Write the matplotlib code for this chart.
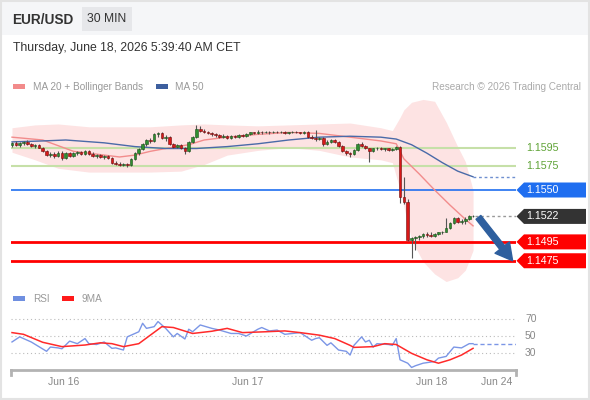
import matplotlib
matplotlib.use("Agg")
import matplotlib.pyplot as plt
from matplotlib.patches import Rectangle, Polygon, FancyArrowPatch
import numpy as np

plt.rcParams['font.family'] = ['Liberation Sans', 'DejaVu Sans']

# ---------------- data ----------------
symbol = "EUR/USD"
timeframe = "30 MIN"
timestamp = "Thursday, June 18, 2026 5:39:40 AM CET"
credit = "Research \u00a9 2026 Trading Central"
legend_price = ["MA 20 + Bollinger Bands", "MA 50"]
legend_rsi = ["RSI", "9MA"]

first_open = 1.1598
closes = [1.1600, 1.1598, 1.1600, 1.1601, 1.1599, 1.1597, 1.1598, 1.1595, 1.1591, 1.1587,
          1.1588, 1.1586, 1.1589, 1.1584, 1.1589, 1.1586, 1.1589, 1.1590, 1.1588, 1.1591,
          1.1588, 1.1586, 1.1587, 1.1585, 1.1586, 1.1584, 1.1579, 1.1578, 1.1577, 1.1578,
          1.1576, 1.1583, 1.1589, 1.1593, 1.1599, 1.1603, 1.1602, 1.1609, 1.1610, 1.1605,
          1.1606, 1.1599, 1.1596, 1.1598, 1.1594, 1.1591, 1.1601, 1.1606, 1.1615, 1.1613,
          1.1611, 1.1610, 1.1609, 1.1608, 1.1606, 1.1607, 1.1605, 1.1607, 1.1606, 1.1608,
          1.1607, 1.1609, 1.1611, 1.1610, 1.1612, 1.1611, 1.1612, 1.1611, 1.1612, 1.1611,
          1.1612, 1.1610, 1.1611, 1.1612, 1.1611, 1.1610, 1.1612, 1.1606, 1.1605, 1.1604,
          1.1605, 1.1599, 1.1601, 1.1603, 1.1601, 1.1597, 1.1591, 1.1589, 1.1588, 1.1592,
          1.1599, 1.1597, 1.1594, 1.1591, 1.1594, 1.1595, 1.1593, 1.1594, 1.1592, 1.1593,
          1.1596, 1.1543, 1.1537, 1.1497, 1.1499, 1.1500, 1.1501, 1.1503, 1.1502, 1.1501,
          1.1503, 1.1505, 1.1506, 1.1510, 1.1515, 1.1520, 1.1516, 1.1517, 1.1519, 1.1522,
          1.1522]
highs = [1.1601, 1.1602, 1.1601, 1.1602, 1.1603, 1.1600, 1.1599, 1.1599, 1.1596, 1.1592,
         1.1590, 1.1590, 1.1591, 1.1591, 1.1590, 1.1590, 1.1590, 1.1591, 1.1591, 1.1592,
         1.1592, 1.1590, 1.1588, 1.1588, 1.1587, 1.1587, 1.1585, 1.1581, 1.1580, 1.1579,
         1.1579, 1.1584, 1.1590, 1.1594, 1.1600, 1.1604, 1.1605, 1.1610, 1.1612, 1.1612,
         1.1608, 1.1607, 1.1600, 1.1599, 1.1599, 1.1596, 1.1602, 1.1607, 1.1619, 1.1618,
         1.1615, 1.1613, 1.1611, 1.1610, 1.1609, 1.1609, 1.1608, 1.1608, 1.1608, 1.1609,
         1.1609, 1.1610, 1.1612, 1.1612, 1.1614, 1.1613, 1.1613, 1.1613, 1.1613, 1.1613,
         1.1613, 1.1613, 1.1612, 1.1613, 1.1613, 1.1612, 1.1613, 1.1613, 1.1608, 1.1614,
         1.1606, 1.1606, 1.1603, 1.1604, 1.1604, 1.1602, 1.1598, 1.1592, 1.1590, 1.1593,
         1.1600, 1.1601, 1.1598, 1.1595, 1.1595, 1.1596, 1.1596, 1.1595, 1.1595, 1.1594,
         1.1597, 1.1597, 1.1564, 1.1540, 1.1500, 1.1501, 1.1502, 1.1504, 1.1505, 1.1505,
         1.1504, 1.1506, 1.1507, 1.1520, 1.1516, 1.1521, 1.1521, 1.1519, 1.1521, 1.1523,
         1.1523]
lows = [1.1596, 1.1597, 1.1596, 1.1598, 1.1598, 1.1596, 1.1595, 1.1594, 1.1590, 1.1586,
        1.1585, 1.1584, 1.1585, 1.1582, 1.1583, 1.1585, 1.1585, 1.1587, 1.1587, 1.1587,
        1.1587, 1.1585, 1.1584, 1.1584, 1.1583, 1.1583, 1.1578, 1.1576, 1.1575, 1.1575,
        1.1574, 1.1575, 1.1582, 1.1587, 1.1592, 1.1597, 1.1600, 1.1601, 1.1606, 1.1604,
        1.1602, 1.1598, 1.1594, 1.1594, 1.1593, 1.1588, 1.1590, 1.1600, 1.1605, 1.1612,
        1.1610, 1.1609, 1.1607, 1.1606, 1.1605, 1.1605, 1.1604, 1.1604, 1.1605, 1.1605,
        1.1606, 1.1606, 1.1608, 1.1609, 1.1609, 1.1609, 1.1610, 1.1609, 1.1610, 1.1610,
        1.1610, 1.1609, 1.1609, 1.1610, 1.1610, 1.1609, 1.1609, 1.1605, 1.1604, 1.1602,
        1.1603, 1.1597, 1.1598, 1.1600, 1.1600, 1.1596, 1.1590, 1.1587, 1.1585, 1.1587,
        1.1591, 1.1596, 1.1593, 1.1580, 1.1590, 1.1592, 1.1592, 1.1591, 1.1591, 1.1591,
        1.1592, 1.1536, 1.1535, 1.1496, 1.1478, 1.1486, 1.1497, 1.1499, 1.1500, 1.1500,
        1.1500, 1.1502, 1.1503, 1.1505, 1.1509, 1.1514, 1.1515, 1.1514, 1.1514, 1.1518,
        1.1521]

ma20_idx = [0, 8, 16, 24, 28, 32, 36, 40, 46, 50, 56, 64, 72, 80, 88, 96, 100, 102, 106, 110, 114, 118, 120]
ma20_val = [1.1606, 1.1603, 1.1591, 1.1587, 1.1585, 1.1587, 1.1591, 1.1594, 1.1598, 1.1603, 1.1606,
            1.1609, 1.1611, 1.1610, 1.1606, 1.1602, 1.1599, 1.1583, 1.1567, 1.1550, 1.1534, 1.1519, 1.1512]

ma50_idx = [0, 8, 14, 24, 32, 40, 48, 56, 64, 72, 80, 88, 96, 100, 104, 108, 112, 116, 120]
ma50_val = [1.1601, 1.1602, 1.1603, 1.1600, 1.1596, 1.1594, 1.1594, 1.1596, 1.1599, 1.1603,
            1.1606, 1.1607, 1.1606, 1.1604, 1.1598, 1.1589, 1.1579, 1.1570, 1.1564]

bb_idx = [0, 6, 12, 20, 28, 36, 44, 50, 56, 64, 72, 80, 88, 96, 99, 101, 102, 104, 107, 110, 113, 116, 118, 120]
bb_upper = [1.1616, 1.1619, 1.1620, 1.1617, 1.1617, 1.1617, 1.1619, 1.1620, 1.1619, 1.1618, 1.1619, 1.1620,
            1.1621, 1.1616, 1.1613, 1.1627, 1.1635, 1.1643, 1.1646, 1.1644, 1.1622, 1.1596, 1.1580, 1.1550]
bb_lower = [1.1590, 1.1582, 1.1573, 1.1569, 1.1569, 1.1569, 1.1570, 1.1577, 1.1587, 1.1592, 1.1595, 1.1592,
            1.1585, 1.1582, 1.1579, 1.1550, 1.1532, 1.1497, 1.1474, 1.1461, 1.1453, 1.1457, 1.1465, 1.1486]

resistance_levels = [1.1595, 1.1575]
pivot_level = 1.1550
last_price = 1.1522
support_levels = [1.1495, 1.1475]
target_level = 1.1475

rsi_idx = [0, 2, 4, 5, 9, 10, 12, 13, 15, 17, 19, 20, 22, 24, 26, 27, 29, 30, 33, 34, 35, 37, 38, 40,
           42, 43, 45, 46, 47, 49, 52, 54, 57, 59, 61, 64, 65, 67, 69, 71, 73, 75, 78, 79, 80, 82,
           83, 85, 87, 88, 89, 91, 92, 93, 94, 95, 98, 99, 100, 101, 103, 104, 105, 107, 110, 111,
           113, 115, 117, 119, 120]
rsi_val = [43, 49, 45, 43, 32, 37, 36, 35, 44, 41, 47, 41, 40, 43, 35.5, 36, 33.5, 49, 55, 65, 59, 61,
           67, 59, 49, 53, 46.5, 58, 55, 63, 59, 57, 53, 53, 50, 58, 60, 56, 57, 52, 53, 54, 45, 47,
           48, 39, 42, 33.5, 32, 27.6, 39, 49, 43, 45, 37, 41, 40, 39, 47, 22, 18, 13, 15, 18, 20, 24,
           26, 37, 36, 41, 41]
rsi_ma_idx = [0, 3, 8, 13, 19, 23, 26, 29, 33, 36, 39, 42, 47, 52, 56, 60, 66, 71, 75, 80, 84, 88,
              89, 94, 97, 100, 104, 108, 111, 114, 117, 120]
rsi_ma_val = [54, 52, 42.6, 37.5, 39.4, 42, 41, 37.5, 41, 51, 61, 60, 53, 55.6, 59, 54, 55, 56, 54,
              51, 47, 39, 36.6, 37.5, 41, 40, 29.6, 22, 18, 22, 27.6, 35.5]
rsi_levels = [70, 50, 30]

date_ticks = [13.5, 61.4, 109.3, 126.2]
date_labels = ["Jun 16", "Jun 17", "Jun 18", "Jun 24"]

# ---------------- figure ----------------
W, H = 590, 400
fig = plt.figure(figsize=(W / 100, H / 100), dpi=100)
fig.patch.set_facecolor("white")

XMIN, XMAX = -0.26, 131.18
ax = fig.add_axes([11 / W, 115 / H, 505 / W, 190 / H])
ax.set_xlim(XMIN, XMAX)
ax.set_ylim(1.14493, 1.16507)
ax.axis("off")

rax = fig.add_axes([11 / W, 30 / H, 505 / W, 65 / H])
rax.set_xlim(XMIN, XMAX)
rax.set_ylim(10, 86.5)
for s in ["top", "left", "right"]:
    rax.spines[s].set_visible(False)
rax.spines["bottom"].set_color("#b3b3b3")
rax.spines["bottom"].set_linewidth(2)
rax.set_yticks([])

# Bollinger band + MAs
ax.fill_between(bb_idx, bb_lower, bb_upper, color="#fde3e3", lw=0, zorder=1)
ax.plot(ma20_idx, ma20_val, color="#f28c8c", lw=1.0, zorder=2.5)
ax.plot(ma50_idx, ma50_val, color="#4a6aa8", lw=1.0, zorder=2.5)
ax.plot([ma50_idx[-1], XMAX], [ma50_val[-1]] * 2, color="#6f8fd0", lw=1.0, ls=(0, (2, 2)), zorder=2.5)

# level lines
for p in resistance_levels:
    ax.axhline(p, color="#c6e0a8", lw=1.5, zorder=2)
ax.axhline(pivot_level, color="#1f6ef0", lw=1.2, zorder=2)
for p in support_levels:
    ax.axhline(p, color="#ff0000", lw=2, zorder=2)

# candles
c = np.array(closes)
o = np.r_[first_open, c[:-1]]
hi = np.array(highs)
lo = np.array(lows)
x = np.arange(len(c))
ax.plot([x[-1] + 0.6, XMAX], [last_price] * 2, color="#999999", lw=1.0, ls=(0, (2, 2)), zorder=2.5)
ax.vlines(x, lo, hi, color="#555555", lw=0.8, zorder=3)
up = c >= o
body = np.maximum(np.abs(c - o), 0.00004)
bottom = np.minimum(o, c)
ax.bar(x[up], body[up], bottom=bottom[up], width=0.68, color="#2f8f2f",
       edgecolor="#1d4d1d", lw=0.4, zorder=4)
ax.bar(x[~up], body[~up], bottom=bottom[~up], width=0.68, color="#d81818",
       edgecolor="#6d0d0d", lw=0.4, zorder=4)

# forecast arrow
arr = FancyArrowPatch((x[-1] + 1.4, last_price - 0.0001), (130.3, target_level),
                      arrowstyle="simple,head_length=1.1,head_width=1.2,tail_width=0.4",
                      mutation_scale=11, color="#2e5f9e", shrinkA=0, shrinkB=0,
                      zorder=6, clip_on=False)
ax.add_patch(arr)

# RSI panel
for lv in rsi_levels:
    rax.axhline(lv, color="#bbbbbb", lw=0.8, ls=(0, (1, 2.5)), zorder=1)
    rax.text(1.0178, lv, str(lv), transform=rax.get_yaxis_transform(), fontsize=7.5,
             color="#888888", va="center", ha="left")
rax.plot(rsi_idx, rsi_val, color="#7b96e6", lw=1.0, zorder=3)
rax.plot([rsi_idx[-1], XMAX], [rsi_val[-1]] * 2, color="#7b96e6", lw=1.0, ls=(0, (3, 2)), zorder=3)
rax.plot(rsi_ma_idx, rsi_ma_val, color="#ff2a2a", lw=1.1, zorder=4)
for xe in (0, 1):
    rax.plot([xe, xe], [0, -0.08], transform=rax.transAxes, clip_on=False, color="#b3b3b3", lw=2)
rax.set_xticks(date_ticks)
rax.set_xticklabels(date_labels)
rax.tick_params(axis="x", length=0, labelsize=7.5, labelcolor="#888888", pad=5)

# overlay (pixel coordinates)
ov = fig.add_axes([0, 0, 1, 1], zorder=10)
ov.set_xlim(0, W)
ov.set_ylim(H, 0)
ov.axis("off")
ov.patch.set_alpha(0)

ov.add_patch(Rectangle((0, 0), W, 35, fc="#f5f6f8", ec="none", zorder=0))
ov.add_patch(Rectangle((0.75, 0.75), W - 1.5, H - 1.5, fill=False, ec="#e3e3e3", lw=1.5, zorder=5))
ov.text(12, 19.5, symbol, fontsize=9.8, fontweight="bold", color="#333333", va="center")
ov.add_patch(Rectangle((82, 7), 50, 24, fc="#e6e7ea", ec="none", zorder=1))
ov.text(107, 19.5, timeframe, ha="center", va="center", fontsize=8.7, color="#333333", zorder=2)
ov.text(13, 48, timestamp, fontsize=8.8, color="#333333", va="center")

ov.add_patch(Rectangle((13, 83.5), 12, 5, fc="#f28b8b", ec="none"))
ov.text(33, 86.5, legend_price[0], fontsize=7.2, color="#999999", va="center")
ov.add_patch(Rectangle((156, 83.5), 12, 5, fc="#3d5f9e", ec="none"))
ov.text(175, 86.5, legend_price[1], fontsize=7.2, color="#999999", va="center")
ov.text(581, 86.5, credit, fontsize=7.2, color="#aaaaaa", va="center", ha="right")

ov.add_patch(Rectangle((13, 296), 12, 5, fc="#6f8fe0", ec="none"))
ov.text(33, 298.5, legend_rsi[0], fontsize=7.2, color="#999999", va="center")
ov.add_patch(Rectangle((62, 296), 12, 5, fc="#ff1a1a", ec="none"))
ov.text(82, 298.5, legend_rsi[1], fontsize=7.2, color="#999999", va="center")


def py(p):
    return H - ax.transData.transform((0, p))[1]


for p in resistance_levels:
    ov.text(526, py(p), f"{p:.4f}", fontsize=7.7, color="#5fa336", va="center")


def tag(p, color):
    yy = py(p)
    ov.add_patch(Polygon([(516.5, yy), (524, yy - 7.5), (586, yy - 7.5), (586, yy + 7.5), (524, yy + 7.5)],
                         closed=True, fc=color, ec="none", zorder=3))
    ov.text(526, yy, f"{p:.4f}", fontsize=7.7, color="white", va="center", zorder=4)


tag(pivot_level, "#1f6ef0")
tag(last_price, "#333333")
for p in support_levels:
    tag(p, "#ff0000")

fig.savefig("out.png", dpi=100)
